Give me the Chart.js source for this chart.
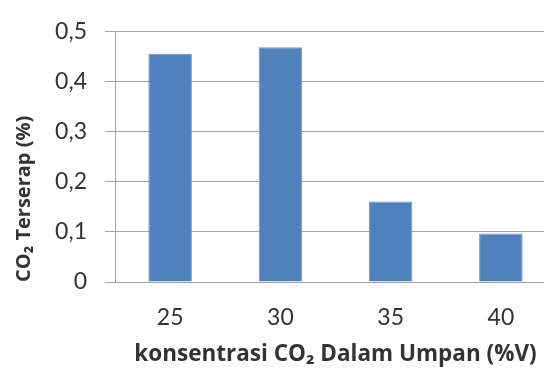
<!DOCTYPE html>
<html>
<head>
<meta charset="utf-8">
<script src="https://cdn.jsdelivr.net/npm/chart.js@4/dist/chart.umd.min.js"></script>
<style>
html,body{margin:0;padding:0;background:#fff;overflow:hidden;width:544px;height:368px;}
canvas{display:block;}
</style>
</head>
<body>
<canvas id="c" width="556" height="368"></canvas>
<script>
const categories = ['25', '30', '35', '40'];
const co2Absorbed = [0.456, 0.469, 0.161, 0.097];
const yTickLabels = ['0', '0,1', '0,2', '0,3', '0,4', '0,5'];
const xTitle = 'konsentrasi CO\u2082 Dalam Umpan (%V)';
const yTitle = 'CO\u2082 Terserap (%)';

const textColor = '#333333';
const gridColor = '#a3a3a3';

new Chart(document.getElementById('c'), {
  type: 'bar',
  data: {
    labels: categories,
    datasets: [{
      data: co2Absorbed,
      backgroundColor: '#4F81BD',
      borderColor: '#6f98cc',
      borderWidth: 1,
      categoryPercentage: 1,
      barPercentage: 0.395
    }]
  },
  options: {
    responsive: false,
    devicePixelRatio: 1,
    animation: false,
    layout: { padding: { top: 25, left: 0, right: 0, bottom: 0 } },
    plugins: { legend: { display: false }, tooltip: { enabled: false } },
    scales: {
      x: {
        grid: { display: false, drawTicks: false },
        border: { display: true, color: gridColor, width: 1 },
        ticks: { color: textColor, font: { family: 'Lato', size: 23 }, padding: 22, maxRotation: 0 },
        title: { display: true, text: xTitle, color: textColor, font: { family: 'Open Sans', size: 22.5, weight: 'bold' }, padding: { top: 0, bottom: 0 } },
        afterFit: s => { s.height = 86; }
      },
      y: {
        min: 0, max: 0.5,
        grid: { color: gridColor, lineWidth: 1, tickLength: 10, drawTicks: true },
        border: { display: true, color: gridColor, width: 1 },
        ticks: {
          stepSize: 0.1,
          color: textColor,
          font: { family: 'Lato', size: 23 },
          padding: 18,
          callback: (v, i) => yTickLabels[i]
        },
        title: { display: true, text: yTitle, align: 'start', color: textColor, font: { family: 'Open Sans', size: 20, weight: 'bold' }, padding: { top: 12, bottom: 0 } },
        afterFit: s => { s.width = 115; }
      }
    }
  }
});
</script>
</body>
</html>
